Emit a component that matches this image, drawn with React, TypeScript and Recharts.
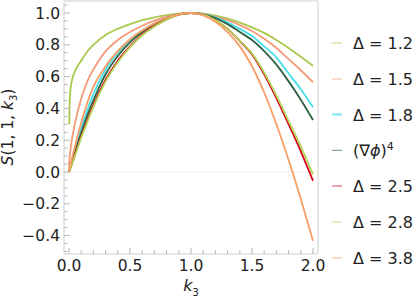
import { LineChart, Line, XAxis, YAxis, ReferenceLine, ReferenceArea } from "recharts";

// k3 sample points
const k3 = [0, 0.002, 0.005, 0.01, 0.025, 0.05, 0.1, 0.15, 0.2, 0.3, 0.4, 0.5, 0.6, 0.7, 0.8, 0.9, 1.0,
  1.1, 1.2, 1.3, 1.4, 1.5, 1.6, 1.7, 1.8, 1.9, 2.0];

const d12 = [null, 0.3, 0.42, 0.5, 0.58, 0.635, 0.7, 0.758, 0.8, 0.862, 0.9, 0.93, 0.955, 0.972, 0.986, 0.996, 1.0,
  0.996, 0.984, 0.965, 0.94, 0.91, 0.875, 0.83, 0.78, 0.725, 0.667];
const d15 = [0, 0.06, 0.09, 0.13, 0.21, 0.31, 0.46, 0.57, 0.645, 0.76, 0.83, 0.88, 0.92, 0.952, 0.976, 0.993, 1.0,
  0.994, 0.976, 0.955, 0.924, 0.887, 0.838, 0.78, 0.71, 0.64, 0.564];
const d18 = [0, 0.006, 0.015, 0.03, 0.07, 0.14, 0.27, 0.39, 0.49, 0.645, 0.75, 0.83, 0.89, 0.935, 0.97, 0.992, 1.0,
  0.993, 0.972, 0.94, 0.9, 0.855, 0.79, 0.72, 0.62, 0.52, 0.407];
const grad4 = [0, 0.005, 0.012, 0.025, 0.06, 0.125, 0.245, 0.355, 0.45, 0.615, 0.73, 0.815, 0.88, 0.93, 0.968, 0.992, 1.0,
  0.992, 0.968, 0.93, 0.88, 0.83, 0.76, 0.675, 0.57, 0.455, 0.327];
const d25 = [0, 0.004, 0.011, 0.022, 0.055, 0.112, 0.225, 0.325, 0.42, 0.58, 0.7, 0.79, 0.865, 0.918, 0.96, 0.99, 1.0,
  0.99, 0.955, 0.9, 0.823, 0.74, 0.615, 0.465, 0.3, 0.13, -0.055];
const d28 = [0, 0.004, 0.01, 0.02, 0.05, 0.105, 0.215, 0.315, 0.41, 0.57, 0.69, 0.785, 0.86, 0.915, 0.958, 0.99, 1.0,
  0.99, 0.955, 0.9, 0.825, 0.745, 0.625, 0.48, 0.32, 0.16, -0.015];
const d38 = [0, 0.01, 0.02, 0.04, 0.09, 0.165, 0.31, 0.435, 0.535, 0.665, 0.76, 0.835, 0.89, 0.935, 0.97, 0.992, 1.0,
  0.985, 0.945, 0.88, 0.79, 0.665, 0.5, 0.3, 0.075, -0.17, -0.432];

const xTicks = [0, 0.1, 0.2, 0.3, 0.4, 0.5, 0.6, 0.7, 0.8, 0.9, 1.0, 1.1, 1.2, 1.3, 1.4, 1.5, 1.6, 1.7, 1.8, 1.9, 2.0];
const yTicks = [-0.5, -0.45, -0.4, -0.35, -0.3, -0.25, -0.2, -0.15, -0.1, -0.05, 0, 0.05, 0.1, 0.15, 0.2, 0.25, 0.3,
  0.35, 0.4, 0.45, 0.5, 0.55, 0.6, 0.65, 0.7, 0.75, 0.8, 0.85, 0.9, 0.95, 1.0, 1.05];

const series = [
  { key: "d12", label: "1.2", values: d12, color: "#a8c94e" },
  { key: "d15", label: "1.5", values: d15, color: "#f59b79" },
  { key: "d18", label: "1.8", values: d18, color: "#46dfe9" },
  { key: "grad4", label: null, values: grad4, color: "#2e6141" },
  { key: "d25", label: "2.5", values: d25, color: "#d3001c" },
  { key: "d28", label: "2.8", values: d28, color: "#b2d354" },
  { key: "d38", label: "3.8", values: d38, color: "#fa9d66" },
];

const data = k3.map((k, i) => {
  const row: any = { k3: k };
  series.forEach((s) => { row[s.key] = s.values[i]; });
  return row;
});

const FONT = "'DejaVu Sans', sans-serif";
const TICK_COLOR = "#b4b4b4";
const fmt = (v: number) => (v < 0 ? "\u2212" : "") + Math.abs(v).toFixed(1);

const XTick = ({ x, y, payload }: any) => {
  const v = payload.value;
  const major = Math.abs(v * 2 - Math.round(v * 2)) < 1e-6;
  return (
    <g>
      <line x1={x} x2={x} y1={y} y2={y - (major ? 6 : 3.5)} stroke={TICK_COLOR} />
      {major && (
        <text x={x} y={y} dy={17} textAnchor="middle" fontSize={15.5} fontFamily={FONT} fill="#222">{fmt(v)}</text>
      )}
    </g>
  );
};

const YTick = ({ x, y, payload }: any) => {
  const v = payload.value;
  const major = Math.abs(v * 5 - Math.round(v * 5)) < 1e-6;
  return (
    <g>
      <line x1={x} x2={x + (major ? 6 : 3.5)} y1={y} y2={y} stroke={TICK_COLOR} />
      {major && (
        <text x={x - 4} y={y} dy={5.5} textAnchor="end" fontSize={15.5} fontFamily={FONT} fill="#222">{fmt(v)}</text>
      )}
    </g>
  );
};

const X_DOMAIN: [number, number] = [-0.041, 2.041];
const Y_DOMAIN: [number, number] = [-0.5157, 1.0755];

export default function App() {
  return (
    <div style={{ position: "absolute", left: 0, top: 0, width: 419, height: 300, background: "#fff", fontFamily: FONT }}>
      <LineChart width={419} height={300} data={data} margin={{ top: 1, right: 101, bottom: 0, left: 0 }}>
        <XAxis dataKey="k3" type="number" domain={X_DOMAIN} ticks={xTicks} allowDataOverflow
          height={46} tickSize={0} tickMargin={0} tickLine={false} axisLine={false} tick={<XTick />} interval={0} />
        <YAxis type="number" domain={Y_DOMAIN} ticks={yTicks} allowDataOverflow
          width={64} tickSize={0} tickMargin={0} tickLine={false} axisLine={false} tick={<YTick />} interval={0} />
        <ReferenceLine y={0} stroke="#ececec" strokeWidth={1} />
        <ReferenceArea x1={X_DOMAIN[0]} x2={X_DOMAIN[1]} y1={Y_DOMAIN[0]} y2={Y_DOMAIN[1]}
          fill="none" stroke="#cfcfcf" strokeWidth={1} />
        {series.map((s) => (
          <Line key={s.key} dataKey={s.key} type="monotone" stroke={s.color} strokeWidth={1.8}
            dot={false} activeDot={false} connectNulls isAnimationActive={false} />
        ))}
      </LineChart>

      {/* y axis label */}
      <div style={{ position: "absolute", left: 9, top: 127, transform: "translate(-50%, -50%) rotate(-90deg)",
        whiteSpace: "nowrap", fontSize: 15.5, color: "#222" }}>
        <i>S</i>(1, 1, <i>k</i><sub style={{ fontSize: 10 }}>3</sub>)
      </div>
      {/* x axis label */}
      <div style={{ position: "absolute", left: 191, top: 287, transform: "translate(-50%, -50%)",
        whiteSpace: "nowrap", fontSize: 16, color: "#222" }}>
        <i>k</i><sub style={{ fontSize: 10 }}>3</sub>
      </div>

      {/* legend */}
      {series.map((s, i) => (
        <div key={s.key} style={{ position: "absolute", left: 332, top: 43 + i * 35.8, transform: "translateY(-50%)",
          display: "flex", alignItems: "center", whiteSpace: "nowrap", fontSize: 16, color: "#222" }}>
          <span style={{ display: "inline-block", width: 10, height: 1.5, background: s.color, opacity: 0.7, marginRight: 11 }} />
          {s.label ? (
            <span>{"\u0394 = " + s.label}</span>
          ) : (
            <span>(∇<i>ϕ</i>)<sup style={{ fontSize: 11 }}>4</sup></span>
          )}
        </div>
      ))}
    </div>
  );
}
